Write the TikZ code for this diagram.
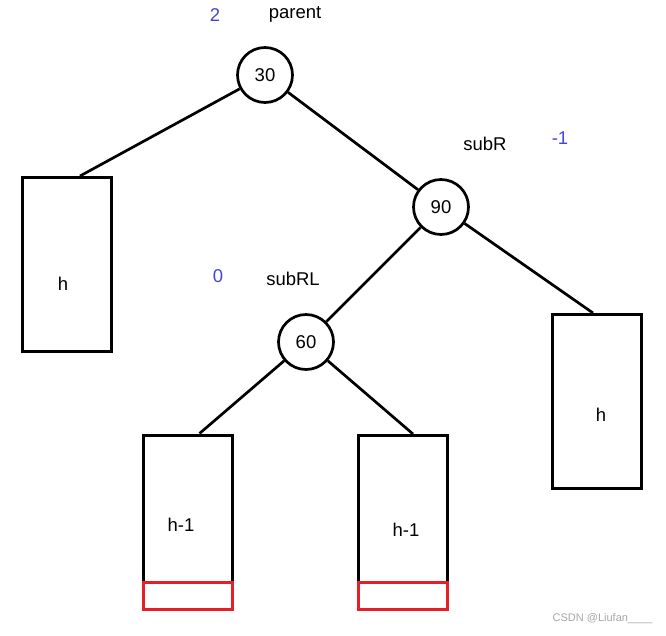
\documentclass[tikz,border=0pt]{standalone}
\usepackage{fontspec}
\setmainfont{Liberation Sans}
\definecolor{balblue}{RGB}{70,70,210}
\definecolor{lostred}{RGB}{230,30,40}
\begin{document}
\begin{tikzpicture}[x=1pt,y=-1pt,
    keynode/.style={circle,draw,line width=2.7pt,minimum size=55pt,inner sep=0pt,font=\fontsize{18.5}{20}\selectfont},
    subtree/.style={rectangle,draw,line width=3pt,minimum width=89pt,minimum height=174pt,inner sep=0pt},
    lostrow/.style={rectangle,draw=lostred,line width=3pt,minimum width=89pt,minimum height=27pt,inner sep=0pt,anchor=south},
    edge/.style={line width=2.7pt},
    tag/.style={font=\fontsize{18.5}{20}\selectfont},
    bf/.style={font=\fontsize{18.5}{20}\selectfont,text=balblue}]
  \useasboundingbox (0,0) rectangle (666,635);
  % --- keys on the path parent -> subR -> subRL ---
  \node[keynode] (p)   at (265,75)  {30};
  \node[keynode] (sr)  at (441,207) {90};
  \node[keynode] (srl) at (306,342) {60};
  \node[tag] (tp)   at (295,14)  {parent};
  \node[tag] (tsr)  at (485,144) {subR};
  \node[tag] (tsrl) at (293,279) {subRL};
  \node[bf] (bp)   at (215,15)  {2};
  \node[bf] (bsr)  at (560,138) {-1};
  \node[bf] (bsrl) at (218,276) {0};
  % --- subtrees with their heights ---
  \node[subtree] (a) at (67,264.5)  {};
  \node[subtree] (d) at (597,401.5) {};
  \node[subtree] (b) at (187.5,522) {};
  \node[subtree] (c) at (403,522.5) {};
  \node[tag] (ha) at (63,284)  {h};
  \node[tag] (hd) at (601,415) {h};
  \node[tag] (hb) at (181,525) {h-1};
  \node[tag] (hc) at (406,530) {h-1};
  \foreach \t in {b,c} \node[lostrow] (r\t) at (\t.south) {};
  % --- edges ---
  \draw[edge] (p) -- ([xshift=13pt]a.north);
  \draw[edge] (p) -- (sr);
  \draw[edge] (sr) -- (srl);
  \draw[edge] (sr) -- ([xshift=-4pt]d.north);
  \draw[edge] (srl) -- ([xshift=12pt]b.north);
  \draw[edge] (srl) -- ([xshift=10pt]c.north);
  \node[anchor=east,font=\fontsize{11}{12}\selectfont,text=gray!70] (wm) at (656,619) {CSDN @Liufan\_\_\_\_};
\end{tikzpicture}
\end{document}
